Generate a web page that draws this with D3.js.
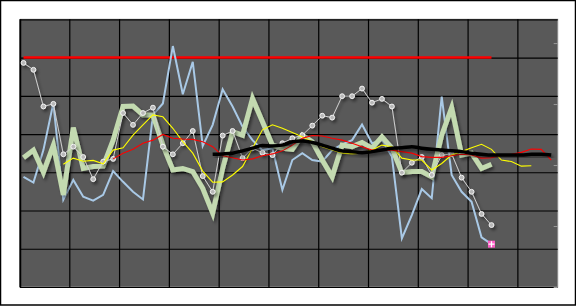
<!DOCTYPE html>
<meta charset="utf-8">
<style>
  body { margin: 0; background: #fff; }
  svg { display: block; }
</style>
<body>
<script src="https://d3js.org/d3.v7.min.js"></script>
<div id="my_dataviz"></div>
<script>

// values, one per period (index = period number)
const blueVals = [28.8, 27.3, 35.8, 48.1, 22.8, 28.0, 23.6, 22.6, 24.1, 30.3,
  27.5, 24.9, 22.9, 45.0, 48.0, 63.0, 50.4, 58.9, 36.9, 42.4,
  51.7, 47.2, 41.9, 38.4, 35.8, 36.3, 25.4, 33.2, 35.0, 33.2,
  32.8, 35.8, 37.3, 38.4, 42.5, 37.6, 38.4, 34.1, 12.7, 18.8,
  25.6, 23.2, 49.8, 29.3, 24.9, 22.3, 13.0, 11.2];

const greenVals = [33.8, 35.8, 30.0, 37.1, 24.1, 41.7, 31.0, 31.5, 31.6, 38.4,
  47.2, 47.3, 45.0, 45.0, 37.1, 30.6, 31.0, 30.2, 25.8, 19.3,
  31.0, 40.6, 39.7, 49.3, 43.2, 37.1, 36.3, 36.0, 39.7, 38.0,
  33.2, 28.8, 37.1, 36.7, 37.8, 36.3, 39.3, 36.3, 29.9, 30.2,
  30.2, 28.8, 39.7, 46.9, 34.5, 35.0, 31.0, 32.1];

const whiteVals = [58.6, 56.8, 47.2, 47.9, 34.7, 36.7, 34.0, 28.2, 32.8, 33.5,
  45.5, 42.4, 45.5, 46.9, 36.7, 34.7, 37.6, 40.8, 29.0, 24.9,
  39.6, 40.8, 33.7, 36.3, 35.1, 34.5, 37.6, 38.9, 39.7, 42.2,
  44.8, 44.3, 49.9, 49.9, 51.9, 48.2, 49.2, 47.2, 29.9, 32.5,
  34.0, 29.3, 34.5, 34.8, 28.6, 24.9, 19.1, 16.2];

// starts at period 4
const yellowStart = 4;
const yellowVals = [32.1, 33.7, 32.9, 33.1, 32.2, 35.8, 36.4, 39.7, 42.4, 45.0,
  44.5, 41.5, 38.0, 35.0, 30.3, 27.4, 27.5, 29.3, 31.5, 36.3,
  41.1, 42.4, 41.5, 40.4, 39.3, 38.0, 36.7, 35.8, 35.0, 34.8,
  35.0, 35.8, 37.1, 36.7, 33.7, 33.2, 33.2, 30.6, 32.3, 34.5,
  35.4, 36.4, 37.3, 36.0, 33.2, 32.8, 31.6, 31.7];

// starts at period 9
const redStart = 9;
const redVals = [33.5, 35.0, 36.0, 37.6, 38.4, 39.9, 38.9, 38.7, 38.6, 38.0,
  36.7, 34.3, 33.8, 33.2, 33.5, 34.3, 34.8, 35.6, 37.1, 38.9,
  39.6, 39.5, 38.9, 38.4, 37.6, 36.7, 35.8, 35.8, 35.8, 35.4,
  35.0, 34.1, 33.9, 33.9, 34.3, 34.7, 34.5, 33.7, 33.8, 34.5,
  34.7, 35.2, 36.1, 36.0, 33.2];

// starts at period 19
const blackStart = 19;
const blackVals = [34.7, 34.8, 35.0, 35.6, 36.3, 37.0, 36.9, 37.1, 38.0, 38.2,
  37.8, 37.1, 36.3, 35.6, 35.4, 35.1, 35.4, 35.8, 36.3, 36.4,
  36.7, 36.3, 36.0, 35.8, 35.6, 35.4, 35.0, 34.7, 34.5, 34.5,
  34.5, 34.5, 34.7, 34.7, 34.5];

// flat target line
const targetVal = 60;
const targetPeriods = [0, 47];

// grid every 5 periods, value grid every 10
const xGridTicks = [-0.4, 4.6, 9.6, 14.6, 19.6, 24.6, 29.6, 34.6, 39.6, 44.6, 49.6];
const yGridTicks = [0, 10, 20, 30, 40, 50, 60, 70];
const rightTicks = [0, 1, 2, 3, 4];

const W = 576, H = 306;
const plot = {left: 20.5, right: 557.7, top: 19.3, bottom: 287};

const svg = d3.select("#my_dataviz")
  .append("svg")
    .attr("width", W)
    .attr("height", H);

// outer frame
svg.append("rect")
  .attr("x", 0.5).attr("y", 0.5)
  .attr("width", W - 1).attr("height", H - 1.5)
  .attr("fill", "#fff")
  .attr("stroke", "#000")
  .attr("stroke-width", 1.5);

const defs = svg.append("defs");
const shadow = defs.append("filter")
  .attr("id", "shadow")
  .attr("x", "-10%").attr("y", "-10%")
  .attr("width", "120%").attr("height", "130%");
shadow.append("feDropShadow")
  .attr("dx", 2).attr("dy", 2.5)
  .attr("stdDeviation", 1.6)
  .attr("flood-color", "#000")
  .attr("flood-opacity", 0.45);

const x = d3.scaleLinear()
  .domain([-0.3, 53.65])
  .range([plot.left, plot.right]);

const y = d3.scaleLinear()
  .domain([0, 70])
  .range([plot.bottom, plot.top]);

const yR = d3.scaleLinear()
  .domain([0, 4.39])
  .range([plot.bottom, plot.top]);

// plot background
svg.append("rect")
  .attr("x", plot.left).attr("y", plot.top)
  .attr("width", plot.right - plot.left)
  .attr("height", plot.bottom - plot.top)
  .attr("fill", "#595959")
  .attr("stroke", "#8a8a8a")
  .attr("stroke-width", 1);

// grid
const xGrid = svg.append("g")
  .attr("transform", `translate(0, ${plot.bottom})`)
  .call(d3.axisBottom(x).tickValues(xGridTicks).tickSize(-(plot.bottom - plot.top)).tickFormat(""));
const yGrid = svg.append("g")
  .attr("transform", `translate(${plot.left}, 0)`)
  .call(d3.axisLeft(y).tickValues(yGridTicks).tickSize(-(plot.right - plot.left)).tickFormat(""));
[xGrid, yGrid].forEach(g => {
  g.select(".domain").remove();
  g.selectAll("line").attr("stroke", "#000").attr("stroke-width", 1.2);
});

// left axis line
svg.append("line")
  .attr("x1", plot.left).attr("x2", plot.left)
  .attr("y1", plot.top).attr("y2", plot.bottom + 1)
  .attr("stroke", "#000").attr("stroke-width", 1.5);

// right-hand ticks (no labels)
const rAxis = svg.append("g")
  .attr("transform", `translate(${plot.right}, 0)`)
  .call(d3.axisLeft(yR).tickValues(rightTicks).tickSize(4).tickFormat(""));
rAxis.select(".domain").remove();
rAxis.selectAll("line").attr("stroke", "#9a9a9a");

function toPoints(vals, start) {
  return vals.map((v, i) => ({i: i + start, v: v}));
}

const line = d3.line()
  .x(d => x(d.i))
  .y(d => y(d.v));

// target line
svg.append("path")
  .datum(targetPeriods.map(p => ({i: p, v: targetVal})))
  .attr("d", line)
  .attr("fill", "none")
  .attr("stroke", "#ff0000")
  .attr("stroke-width", 2.5);

// blue
svg.append("path")
  .datum(toPoints(blueVals, 0))
  .attr("d", line)
  .attr("fill", "none")
  .attr("stroke", "#a9c9e6")
  .attr("stroke-width", 2)
  .attr("stroke-linejoin", "miter");

// green (thick)
svg.append("path")
  .datum(toPoints(greenVals, 0))
  .attr("d", line)
  .attr("fill", "none")
  .attr("stroke", "#c3dab0")
  .attr("stroke-width", 5)
  .attr("stroke-linejoin", "miter")
  .attr("filter", "url(#shadow)");

// white with markers
const whiteG = svg.append("g").attr("filter", "url(#shadow)");
const whitePts = toPoints(whiteVals, 0);
whiteG.append("path")
  .datum(whitePts)
  .attr("d", line)
  .attr("fill", "none")
  .attr("stroke", "#d0d0d0")
  .attr("stroke-width", 1);
whiteG.selectAll("circle")
  .data(whitePts)
  .join("circle")
    .attr("cx", d => x(d.i))
    .attr("cy", d => y(d.v))
    .attr("r", 2.4)
    .attr("fill", "#b8b8b8")
    .attr("stroke", "#f4f4f4")
    .attr("stroke-width", 1);

// yellow
svg.append("path")
  .datum(toPoints(yellowVals, yellowStart))
  .attr("d", line)
  .attr("fill", "none")
  .attr("stroke", "#ffff00")
  .attr("stroke-width", 1.1);

// red
svg.append("path")
  .datum(toPoints(redVals, redStart))
  .attr("d", line)
  .attr("fill", "none")
  .attr("stroke", "#ff0000")
  .attr("stroke-width", 1.1);

// black smoothed
svg.append("path")
  .datum(toPoints(blackVals, blackStart))
  .attr("d", d3.line().x(d => x(d.i)).y(d => y(d.v)).curve(d3.curveMonotoneX))
  .attr("fill", "none")
  .attr("stroke", "#000")
  .attr("stroke-width", 3.5)
  .attr("filter", "url(#shadow)");

// pink end marker on the blue series
const last = blueVals.length - 1;
const mx = x(last), my = y(blueVals[last]);
svg.append("rect")
  .attr("x", mx - 3.5).attr("y", my - 3.5)
  .attr("width", 7).attr("height", 7)
  .attr("fill", "#ff5fc8");
svg.append("path")
  .attr("d", `M${mx - 3},${my}H${mx + 3}M${mx},${my - 3}V${my + 3}`)
  .attr("stroke", "#fff")
  .attr("stroke-width", 1.2);

</script>
</body>
